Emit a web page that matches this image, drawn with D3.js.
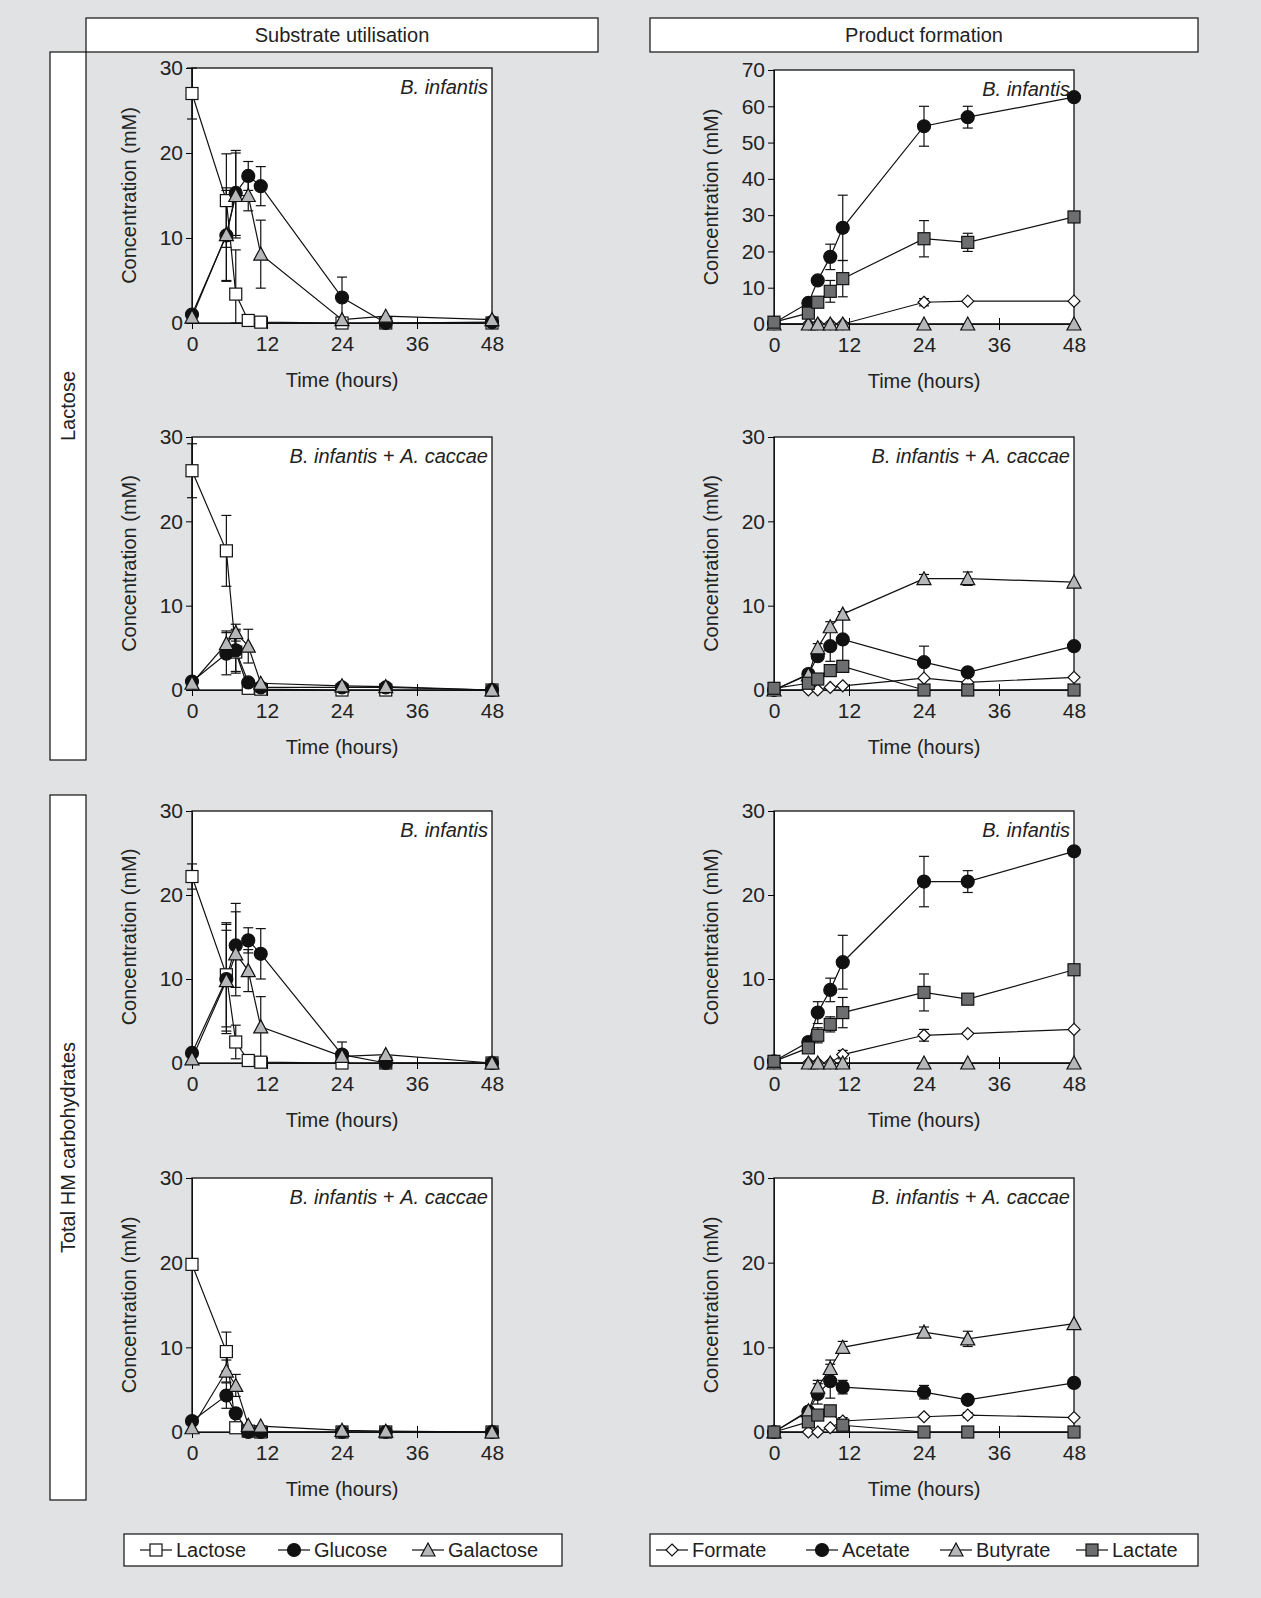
<!DOCTYPE html>
<html>
<head>
<meta charset="utf-8">
<script src="https://cdn.jsdelivr.net/npm/d3@7"></script>
<style>
  body { margin:0; background:#e1e2e4; }
  text { font-family:"Liberation Sans Narrow","Liberation Sans",Arial,sans-serif; fill:#222; }
</style>
</head>
<body>
<script>
// sampling times (hours)
var times = [0, 5.5, 7, 9, 11, 24, 31, 48];

// substrate utilisation
var subLacBinf = {
  Lactose:   [27, 14.4, 3.4, 0.3, 0.1, 0, 0, 0],
  Glucose:   [1, 10.3, 15.3, 17.3, 16.1, 3, 0, 0.1],
  Galactose: [0.7, 10.4, 15, 15, 8.1, 0.4, 0.8, 0.4]
};
var subLacBinfErr = {
  Lactose:   [3, 5.5, 5.2, 0, 0, 0, 0, 0],
  Glucose:   [0, 5.3, 5, 1.7, 2.3, 2.4, 0, 0],
  Galactose: [0, 5.5, 5, 1.8, 4, 0, 0, 0]
};
var subLacMix = {
  Lactose:   [26, 16.5, 4.5, 0.2, 0.1, 0, 0, 0],
  Glucose:   [1, 4.3, 4.7, 0.9, 0.3, 0.3, 0.3, 0],
  Galactose: [0.8, 5.5, 6.8, 5.2, 0.8, 0.5, 0.4, 0]
};
var subLacMixErr = {
  Lactose:   [3.2, 4.2, 2.5, 0, 0, 0, 0, 0],
  Glucose:   [0, 2.5, 2.5, 0, 0, 0, 0, 0],
  Galactose: [0, 1.5, 1, 2, 0, 0, 0, 0]
};
var subHmBinf = {
  Lactose:   [22.2, 10.5, 2.5, 0.3, 0.1, 0, 0, 0],
  Glucose:   [1.2, 10, 14, 14.6, 13, 1, 0, 0],
  Galactose: [0.5, 9.8, 13, 11, 4.3, 0.8, 1, 0]
};
var subHmBinfErr = {
  Lactose:   [1.5, 6.2, 2, 0, 0, 0, 0, 0],
  Glucose:   [0, 6.5, 5, 1.5, 3, 1.5, 0, 0],
  Galactose: [0, 6, 5, 2.5, 3.6, 0, 0, 0]
};
var subHmMix = {
  Lactose:   [19.8, 9.5, 0.5, 0.1, 0, 0, 0, 0],
  Glucose:   [1.3, 4.3, 2.2, 0, 0, 0, 0, 0],
  Galactose: [0.5, 7.2, 5.5, 0.8, 0.7, 0.2, 0.1, 0]
};
var subHmMixErr = {
  Lactose:   [0.5, 2.3, 0, 0, 0, 0, 0, 0],
  Glucose:   [0, 1.5, 0, 0, 0, 0, 0, 0],
  Galactose: [0, 1.3, 1.3, 0, 0, 0, 0, 0]
};

// product formation
var proLacBinf = {
  Formate: [0, 0, 0, 0, 0, 6, 6.3, 6.3],
  Acetate: [0.3, 5.8, 12, 18.5, 26.5, 54.5, 57, 62.5],
  Butyrate:[0, 0, 0, 0, 0, 0, 0, 0],
  Lactate: [0.5, 3, 6, 9, 12.5, 23.5, 22.5, 29.5]
};
var proLacBinfErr = {
  Formate: [0, 0, 0, 0, 0, 1, 0, 0],
  Acetate: [0, 0, 0, 3.5, 9, 5.5, 3, 0],
  Butyrate:[0, 0, 0, 0, 0, 0, 0, 0],
  Lactate: [0, 0, 0, 3, 5, 5, 2.5, 0]
};
var proLacMix = {
  Formate: [0, 0, 0, 0.3, 0.5, 1.4, 0.9, 1.5],
  Acetate: [0, 1.9, 4, 5.2, 6, 3.3, 2.1, 5.2],
  Butyrate:[0, 1.8, 5, 7.5, 9, 13.2, 13.2, 12.8],
  Lactate: [0.2, 0.8, 1.3, 2.3, 2.8, 0, 0, 0]
};
var proLacMixErr = {
  Formate: [0, 0, 0, 0, 0, 0, 0, 0],
  Acetate: [0, 0, 0, 1.8, 2.5, 1.9, 0, 0],
  Butyrate:[0, 0, 0.5, 0.6, 0.3, 0.5, 0.8, 0],
  Lactate: [0, 0, 0, 0, 0, 0, 0, 0]
};
var proHmBinf = {
  Formate: [0, 0, 0, 0, 1, 3.3, 3.5, 4],
  Acetate: [0.2, 2.5, 6, 8.7, 12, 21.6, 21.6, 25.2],
  Butyrate:[0, 0, 0, 0, 0, 0, 0, 0],
  Lactate: [0.2, 1.8, 3.3, 4.6, 6, 8.4, 7.6, 11.1]
};
var proHmBinfErr = {
  Formate: [0, 0, 0, 0, 0.5, 0.7, 0, 0],
  Acetate: [0, 0, 1.3, 1.4, 3.2, 3, 1.3, 0],
  Butyrate:[0, 0, 0, 0, 0, 0, 0, 0],
  Lactate: [0, 0, 0.9, 0.9, 1.8, 2.2, 0, 0]
};
var proHmMix = {
  Formate: [0, 0, 0, 0.5, 1.3, 1.8, 2, 1.7],
  Acetate: [0, 2.4, 4.5, 6, 5.3, 4.7, 3.8, 5.8],
  Butyrate:[0, 2.5, 5.3, 7.5, 10, 11.8, 11, 12.8],
  Lactate: [0, 1.2, 2, 2.5, 0.8, 0, 0, 0]
};
var proHmMixErr = {
  Formate: [0, 0, 0, 0, 0.4, 0, 0.3, 0],
  Acetate: [0, 0, 1.2, 2, 0.8, 0.8, 0, 0],
  Butyrate:[0, 0.4, 0.8, 1, 0.7, 0.6, 0.9, 0],
  Lactate: [0, 0, 0, 0, 0, 0, 0, 0]
};

var xTicks = [0, 12, 24, 36, 48];

var style = {
  Lactose:   {shape:"square", fill:"#fff"},
  Glucose:   {shape:"circle", fill:"#111"},
  Galactose: {shape:"triangle", fill:"#b5b7b9"},
  Formate:   {shape:"diamond", fill:"#fff"},
  Acetate:   {shape:"circle", fill:"#111"},
  Butyrate:  {shape:"triangle", fill:"#b5b7b9"},
  Lactate:   {shape:"square", fill:"#6d6e70"}
};

var panels = [
  {col:0, top:68,  bot:323, ymax:30, yt:[0,10,20,30], title:"B. infantis", d:subLacBinf, e:subLacBinfErr},
  {col:1, top:70,  bot:324, ymax:70, yt:[0,10,20,30,40,50,60,70], title:"B. infantis", d:proLacBinf, e:proLacBinfErr},
  {col:0, top:437, bot:690, ymax:30, yt:[0,10,20,30], title:"B. infantis + A. caccae", d:subLacMix, e:subLacMixErr},
  {col:1, top:437, bot:690, ymax:30, yt:[0,10,20,30], title:"B. infantis + A. caccae", d:proLacMix, e:proLacMixErr},
  {col:0, top:811, bot:1063, ymax:30, yt:[0,10,20,30], title:"B. infantis", d:subHmBinf, e:subHmBinfErr},
  {col:1, top:811, bot:1063, ymax:30, yt:[0,10,20,30], title:"B. infantis", d:proHmBinf, e:proHmBinfErr},
  {col:0, top:1178, bot:1432, ymax:30, yt:[0,10,20,30], title:"B. infantis + A. caccae", d:subHmMix, e:subHmMixErr},
  {col:1, top:1178, bot:1432, ymax:30, yt:[0,10,20,30], title:"B. infantis + A. caccae", d:proHmMix, e:proHmMixErr}
];
var colX = [[192, 492], [774, 1074]];

var svg = d3.select("body").append("svg").attr("width", 1261).attr("height", 1598);

function marker(g, shape, fill, x, y, s) {
  s = s || 12;
  var h = s / 2, el;
  if (shape === "circle") el = g.append("circle").attr("cx", x).attr("cy", y).attr("r", h + 0.5);
  else if (shape === "square") el = g.append("rect").attr("x", x - h).attr("y", y - h).attr("width", s).attr("height", s);
  else if (shape === "triangle") el = g.append("path").attr("d", "M" + x + "," + (y - h - 1) + "L" + (x + h + 1) + "," + (y + h) + "L" + (x - h - 1) + "," + (y + h) + "Z");
  else el = g.append("path").attr("d", "M" + x + "," + (y - h) + "L" + (x + h) + "," + y + "L" + x + "," + (y + h) + "L" + (x - h) + "," + y + "Z");
  el.attr("fill", fill).attr("stroke", "#111").attr("stroke-width", 1.2);
}

panels.forEach(function(p) {
  var x = d3.scaleLinear().domain([0, 48]).range(colX[p.col]);
  var y = d3.scaleLinear().domain([0, p.ymax]).range([p.bot, p.top]);
  var g = svg.append("g");
  g.append("rect").attr("x", x(0)).attr("y", p.top).attr("width", x(48) - x(0)).attr("height", p.bot - p.top)
    .attr("fill", "#fff").attr("stroke", "#111").attr("stroke-width", 1.3);

  var ya = g.append("g").attr("transform", "translate(" + x(0) + ",0)")
    .call(d3.axisLeft(y).tickValues(p.yt).tickSize(6).tickPadding(3));
  var xa = g.append("g").attr("transform", "translate(0," + p.bot + ")")
    .call(d3.axisBottom(x).tickValues(xTicks).tickSize(6).tickPadding(7));
  xa.selectAll(".tick line").attr("y1", -6).attr("y2", 6);
  [ya, xa].forEach(function(a) {
    a.select(".domain").attr("stroke", "#111");
    a.selectAll("text").style("font-size", "21px").attr("fill", "#222");
  });

  g.append("text").attr("x", (x(0) + x(48)) / 2).attr("y", p.bot + 64).attr("text-anchor", "middle")
    .style("font-size", "20px").text("Time (hours)");
  g.append("text").attr("transform", "translate(" + (x(0) - 56) + "," + ((p.top + p.bot) / 2) + ") rotate(-90)")
    .attr("text-anchor", "middle").style("font-size", "20px").text("Concentration (mM)");

  var t = g.append("text").attr("x", x(48) - 4).attr("y", p.top + 26).attr("text-anchor", "end")
    .style("font-size", "20px").style("font-style", "italic");
  if (p.title.indexOf("+") > 0) {
    t.append("tspan").text("B. infantis");
    t.append("tspan").style("font-style", "normal").text(" + ");
    t.append("tspan").text("A. caccae");
  } else t.text(p.title);

  var line = d3.line().x(function(d) { return x(d[0]); }).y(function(d) { return y(d[1]); });
  var names = Object.keys(p.d);
  names.forEach(function(n) {
    var pts = times.map(function(tm, i) { return [tm, p.d[n][i]]; });
    g.append("path").attr("d", line(pts)).attr("fill", "none").attr("stroke", "#111").attr("stroke-width", 1.2);
    pts.forEach(function(pt, i) {
      var e = p.e[n][i];
      if (e > 0) {
        var lo = Math.max(0, pt[1] - e), hi = pt[1] + e;
        g.append("line").attr("x1", x(pt[0])).attr("x2", x(pt[0])).attr("y1", y(lo)).attr("y2", y(hi)).attr("stroke", "#111").attr("stroke-width", 1.2);
        [lo, hi].forEach(function(v) {
          g.append("line").attr("x1", x(pt[0]) - 5).attr("x2", x(pt[0]) + 5).attr("y1", y(v)).attr("y2", y(v)).attr("stroke", "#111").attr("stroke-width", 1.2);
        });
      }
    });
  });
  names.forEach(function(n) {
    times.forEach(function(tm, i) { marker(g, style[n].shape, style[n].fill, x(tm), y(p.d[n][i])); });
  });
});

// headers and row labels
function box(x0, y0, w, h, label, rot) {
  svg.append("rect").attr("x", x0).attr("y", y0).attr("width", w).attr("height", h)
    .attr("fill", "#fff").attr("stroke", "#111").attr("stroke-width", 1.2);
  var t = svg.append("text").style("font-size", "20px").attr("text-anchor", "middle").text(label);
  if (rot) t.attr("transform", "translate(" + (x0 + w / 2 + 7) + "," + (y0 + h / 2) + ") rotate(-90)");
  else t.attr("x", x0 + w / 2).attr("y", y0 + h / 2 + 7);
}
box(86, 18, 512, 34, "Substrate utilisation");
box(650, 18, 548, 34, "Product formation");
box(50, 52, 36, 708, "Lactose", true);
box(50, 795, 36, 705, "Total HM carbohydrates", true);

// legends
var legLeft = ["Lactose", "Glucose", "Galactose"], legLeftX = [140, 278, 412];
var legRight = ["Formate", "Acetate", "Butyrate", "Lactate"], legRightX = [656, 806, 940, 1076];
function legend(x0, w, items, xs) {
  svg.append("rect").attr("x", x0).attr("y", 1534).attr("width", w).attr("height", 32)
    .attr("fill", "#fff").attr("stroke", "#111").attr("stroke-width", 1.2);
  items.forEach(function(n, i) {
    var lx = xs[i], ly = 1550;
    svg.append("line").attr("x1", lx).attr("x2", lx + 32).attr("y1", ly).attr("y2", ly).attr("stroke", "#111").attr("stroke-width", 1.2);
    marker(svg, style[n].shape, style[n].fill, lx + 16, ly);
    svg.append("text").attr("x", lx + 36).attr("y", ly + 7).style("font-size", "20px").text(n);
  });
}
legend(124, 438, legLeft, legLeftX);
legend(650, 548, legRight, legRightX);
</script>
</body>
</html>
